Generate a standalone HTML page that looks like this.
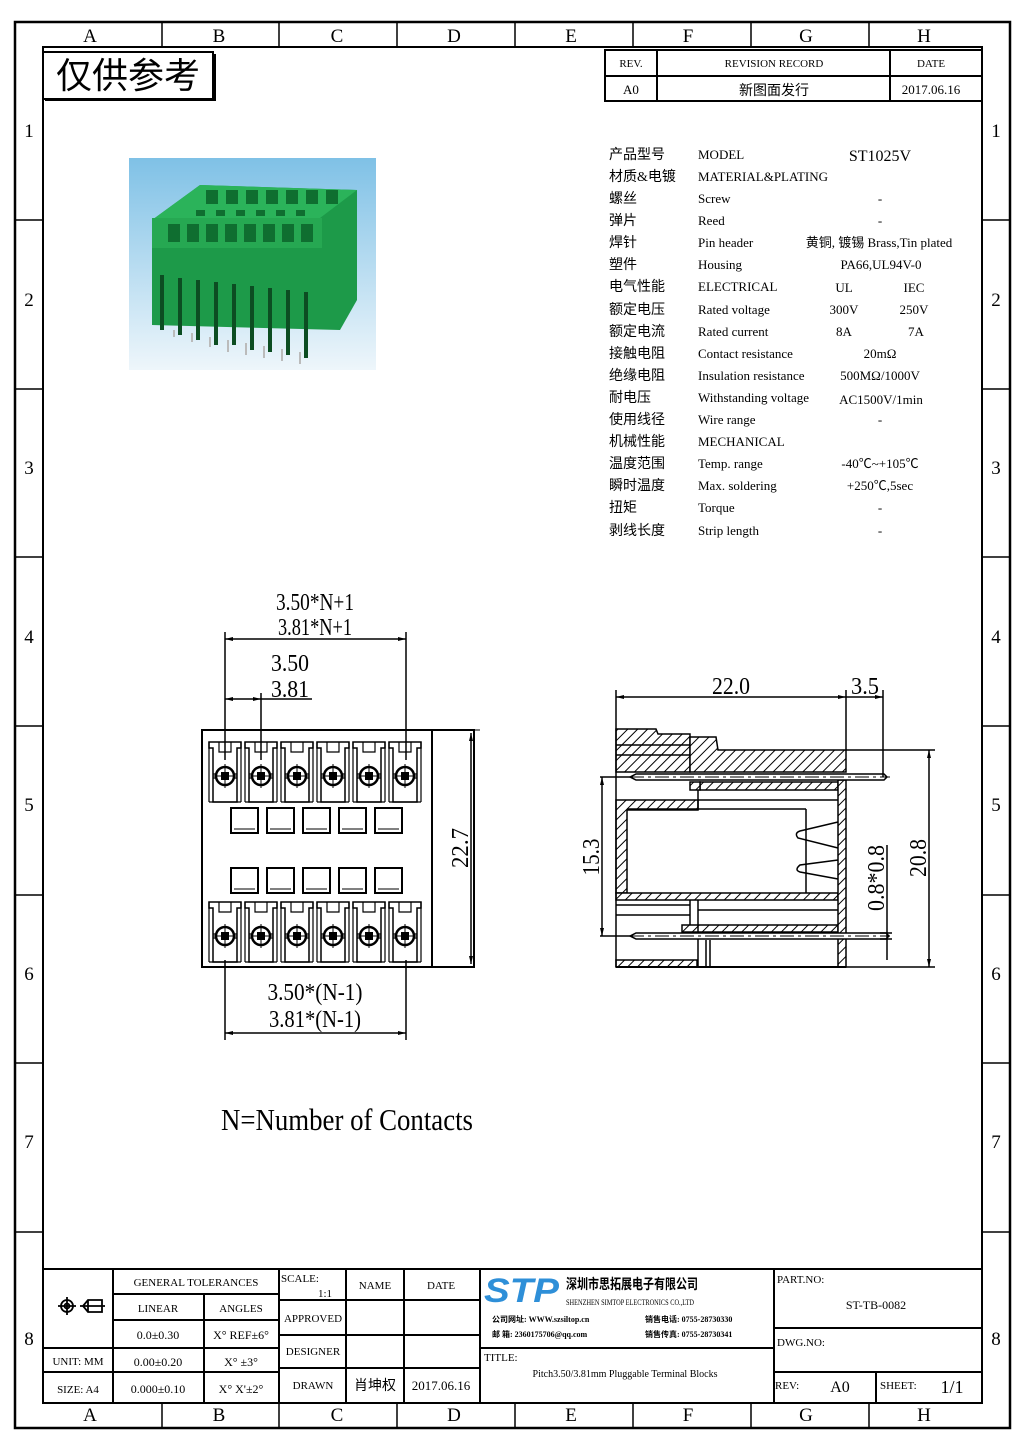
<!DOCTYPE html>
<html><head><meta charset="utf-8"><style>
html,body{margin:0;padding:0;background:#fff;}
svg{display:block;}
text{font-family:"Liberation Serif","Noto Sans CJK SC",serif;fill:#000;}
.s{font-family:"Liberation Sans","Noto Sans CJK SC",sans-serif;}
</style></head><body>
<svg width="1026" height="1451" viewBox="0 0 1026 1451" xmlns="http://www.w3.org/2000/svg">
<defs>
<pattern id="h" width="7" height="7" patternUnits="userSpaceOnUse" patternTransform="rotate(45)">
<rect width="7" height="7" fill="#fff"/><line x1="0" y1="0" x2="0" y2="7" stroke="#000" stroke-width="2"/></pattern>
<linearGradient id="bg" x1="0" y1="0" x2="0" y2="1"><stop offset="0" stop-color="#7fc1e6"/><stop offset="1" stop-color="#eef6fb"/></linearGradient>
<g id="t">
<path d="M-16,-34 H16 V-28 H12 V26 H-12 V-28 H-16 Z" fill="none" stroke="#000" stroke-width="1.5"/>
<path d="M-6,-34 V-24 H6 V-34 M-16,-34 V26 M16,-34 V26 M-16,26 H16 M-12,-2 H12 M-12,2 H12" fill="none" stroke="#000" stroke-width="1.2"/>
<circle r="9" fill="#fff" stroke="#000" stroke-width="2.5"/>
<line x1="-12" y1="0" x2="12" y2="0" stroke="#000" stroke-width="1"/>
<line x1="0" y1="-12" x2="0" y2="12" stroke="#000" stroke-width="1"/>
<rect x="-4" y="-4" width="8" height="8" fill="#000"/>
</g>
<g id="sq"><rect x="0" y="0" width="27" height="25" fill="#fff" stroke="#000" stroke-width="2"/><line x1="3" y1="21" x2="24" y2="21" stroke="#000" stroke-width="1"/></g>
</defs>

<!-- frames -->
<rect x="15" y="22" width="995" height="1406" fill="none" stroke="#000" stroke-width="2.5"/>
<rect x="43" y="47" width="939" height="1356" fill="none" stroke="#000" stroke-width="2"/>
<g stroke="#000" stroke-width="1.5">
<line x1="162" y1="22" x2="162" y2="47"/><line x1="279" y1="22" x2="279" y2="47"/><line x1="397" y1="22" x2="397" y2="47"/><line x1="515" y1="22" x2="515" y2="47"/><line x1="633" y1="22" x2="633" y2="47"/><line x1="751" y1="22" x2="751" y2="47"/><line x1="869" y1="22" x2="869" y2="47"/>
<line x1="162" y1="1403" x2="162" y2="1428"/><line x1="279" y1="1403" x2="279" y2="1428"/><line x1="397" y1="1403" x2="397" y2="1428"/><line x1="515" y1="1403" x2="515" y2="1428"/><line x1="633" y1="1403" x2="633" y2="1428"/><line x1="751" y1="1403" x2="751" y2="1428"/><line x1="869" y1="1403" x2="869" y2="1428"/>
<line x1="15" y1="220" x2="43" y2="220"/><line x1="15" y1="389" x2="43" y2="389"/><line x1="15" y1="557" x2="43" y2="557"/><line x1="15" y1="726" x2="43" y2="726"/><line x1="15" y1="895" x2="43" y2="895"/><line x1="15" y1="1063" x2="43" y2="1063"/><line x1="15" y1="1232" x2="43" y2="1232"/>
<line x1="982" y1="220" x2="1010" y2="220"/><line x1="982" y1="389" x2="1010" y2="389"/><line x1="982" y1="557" x2="1010" y2="557"/><line x1="982" y1="726" x2="1010" y2="726"/><line x1="982" y1="895" x2="1010" y2="895"/><line x1="982" y1="1063" x2="1010" y2="1063"/><line x1="982" y1="1232" x2="1010" y2="1232"/>
</g>
<g font-size="19" text-anchor="middle" class="s">
<text x="90" y="42">A</text><text x="219" y="42">B</text><text x="337" y="42">C</text><text x="454" y="42">D</text><text x="571" y="42">E</text><text x="688" y="42">F</text><text x="806" y="42">G</text><text x="924" y="42">H</text>
<text x="90" y="1421">A</text><text x="219" y="1421">B</text><text x="337" y="1421">C</text><text x="454" y="1421">D</text><text x="571" y="1421">E</text><text x="688" y="1421">F</text><text x="806" y="1421">G</text><text x="924" y="1421">H</text>
<text x="29" y="137">1</text><text x="29" y="306">2</text><text x="29" y="474">3</text><text x="29" y="643">4</text><text x="29" y="811">5</text><text x="29" y="980">6</text><text x="29" y="1148">7</text><text x="29" y="1345">8</text>
<text x="996" y="137">1</text><text x="996" y="306">2</text><text x="996" y="474">3</text><text x="996" y="643">4</text><text x="996" y="811">5</text><text x="996" y="980">6</text><text x="996" y="1148">7</text><text x="996" y="1345">8</text>
</g>

<!-- stamp -->
<rect x="43" y="52" width="170" height="47" fill="none" stroke="#000" stroke-width="2"/>
<line x1="215" y1="54" x2="215" y2="101" stroke="#000" stroke-width="2"/><line x1="45" y1="100" x2="215" y2="100" stroke="#000" stroke-width="2"/>
<text x="128" y="88" font-size="36" text-anchor="middle" class="s" font-weight="normal">仅供参考</text>

<!-- revision -->
<g stroke="#000" stroke-width="2" fill="none">
<rect x="605" y="50" width="377" height="51"/>
<line x1="605" y1="76" x2="982" y2="76"/><line x1="657" y1="50" x2="657" y2="101"/><line x1="890" y1="50" x2="890" y2="101"/>
</g>
<g font-size="11" text-anchor="middle">
<text x="631" y="67">REV.</text><text x="774" y="67">REVISION RECORD</text><text x="931" y="67">DATE</text>
<text x="631" y="94" font-size="13">A0</text><text x="774" y="95" font-size="14">新图面发行</text><text x="931" y="94" font-size="13">2017.06.16</text>
</g>

<!-- photo -->
<rect x="129" y="158" width="247" height="212" fill="url(#bg)"/>
<polygon points="152,220 200,185 357,190 357,300 340,330 152,325" fill="#1d9a49"/>
<polygon points="152,220 200,185 357,190 320,218" fill="#2bb35a"/>
<rect x="152" y="218" width="170" height="30" fill="#26a852"/>
<g fill="#0f6e30">
<rect x="168" y="224" width="12" height="18"/><rect x="187" y="224" width="12" height="18"/><rect x="206" y="224" width="12" height="18"/><rect x="225" y="224" width="12" height="18"/><rect x="244" y="224" width="12" height="18"/><rect x="263" y="224" width="12" height="18"/><rect x="282" y="224" width="12" height="18"/><rect x="301" y="224" width="12" height="18"/>
<rect x="206" y="190" width="12" height="14"/><rect x="226" y="190" width="12" height="14"/><rect x="246" y="190" width="12" height="14"/><rect x="266" y="190" width="12" height="14"/><rect x="286" y="190" width="12" height="14"/><rect x="306" y="190" width="12" height="14"/><rect x="326" y="190" width="12" height="14"/>
<rect x="196" y="210" width="9" height="6"/><rect x="216" y="210" width="9" height="6"/><rect x="236" y="210" width="9" height="6"/><rect x="256" y="210" width="9" height="6"/><rect x="276" y="210" width="9" height="6"/><rect x="296" y="210" width="9" height="6"/>
</g>
<g stroke="#0c4d22" stroke-width="4">
<line x1="162" y1="275" x2="162" y2="330"/><line x1="180" y1="278" x2="180" y2="335"/><line x1="198" y1="280" x2="198" y2="340"/><line x1="216" y1="282" x2="216" y2="345"/><line x1="234" y1="284" x2="234" y2="345"/><line x1="252" y1="286" x2="252" y2="350"/><line x1="270" y1="288" x2="270" y2="352"/><line x1="288" y1="290" x2="288" y2="355"/><line x1="306" y1="292" x2="306" y2="358"/>
</g>
<g stroke="#bbb" stroke-width="2">
<line x1="174" y1="330" x2="174" y2="337"/><line x1="192" y1="333" x2="192" y2="342"/><line x1="210" y1="337" x2="210" y2="347"/><line x1="228" y1="340" x2="228" y2="352"/><line x1="246" y1="343" x2="246" y2="355"/><line x1="264" y1="346" x2="264" y2="358"/><line x1="282" y1="349" x2="282" y2="361"/><line x1="300" y1="352" x2="300" y2="364"/>
</g>

<!-- spec table -->
<g font-size="13" font-family="Liberation Serif,'Noto Sans CJK SC',serif">
<g font-size="14">
<text x="609" y="159">产品型号</text><text x="609" y="181">材质&amp;电镀</text><text x="609" y="203">螺丝</text><text x="609" y="225">弹片</text><text x="609" y="247">焊针</text><text x="609" y="269">塑件</text><text x="609" y="291">电气性能</text><text x="609" y="314">额定电压</text><text x="609" y="336">额定电流</text><text x="609" y="358">接触电阻</text><text x="609" y="380">绝缘电阻</text><text x="609" y="402">耐电压</text><text x="609" y="424">使用线径</text><text x="609" y="446">机械性能</text><text x="609" y="468">温度范围</text><text x="609" y="490">瞬时温度</text><text x="609" y="512">扭矩</text><text x="609" y="535">剥线长度</text>
</g>
<text x="698" y="159">MODEL</text><text x="698" y="181">MATERIAL&amp;PLATING</text><text x="698" y="203">Screw</text><text x="698" y="225">Reed</text><text x="698" y="247">Pin header</text><text x="698" y="269">Housing</text><text x="698" y="291">ELECTRICAL</text><text x="698" y="314">Rated voltage</text><text x="698" y="336">Rated current</text><text x="698" y="358">Contact resistance</text><text x="698" y="380">Insulation resistance</text><text x="698" y="402">Withstanding voltage</text><text x="698" y="424">Wire range</text><text x="698" y="446">MECHANICAL</text><text x="698" y="468">Temp. range</text><text x="698" y="490">Max. soldering</text><text x="698" y="512">Torque</text><text x="698" y="535">Strip length</text>
<g text-anchor="middle">
<text x="880" y="161" font-size="16">ST1025V</text>
<text x="880" y="203">-</text><text x="880" y="225">-</text>
<text x="879" y="247">黄铜, 镀锡 Brass,Tin plated</text>
<text x="881" y="269">PA66,UL94V-0</text>
<text x="844" y="292">UL</text><text x="914" y="292">IEC</text>
<text x="844" y="314">300V</text><text x="914" y="314">250V</text>
<text x="844" y="336">8A</text><text x="916" y="336">7A</text>
<text x="880" y="358">20mΩ</text><text x="880" y="380">500MΩ/1000V</text><text x="881" y="404">AC1500V/1min</text>
<text x="880" y="424">-</text>
<text x="880" y="468">-40℃~+105℃</text><text x="880" y="490">+250℃,5sec</text>
<text x="880" y="512">-</text><text x="880" y="535">-</text>
</g>
</g>

<!-- front view -->
<g stroke="#000" fill="none">
<line x1="225" y1="632" x2="225" y2="760" stroke-width="1.5"/>
<line x1="406" y1="632" x2="406" y2="760" stroke-width="1.5"/>
<line x1="225" y1="639" x2="406" y2="639" stroke-width="1.5"/>
<line x1="261" y1="693" x2="261" y2="760" stroke-width="1.5"/>
<line x1="225" y1="699" x2="312" y2="699" stroke-width="1.5"/>
<line x1="225" y1="960" x2="225" y2="1040" stroke-width="1.5"/>
<line x1="406" y1="960" x2="406" y2="1040" stroke-width="1.5"/>
<line x1="225" y1="1033" x2="406" y2="1033" stroke-width="1.5"/>
<rect x="202" y="730" width="272" height="237" stroke-width="2"/>
<line x1="432" y1="730" x2="432" y2="967" stroke-width="2"/>
<line x1="474" y1="730" x2="480" y2="730" stroke-width="1"/>
<line x1="471" y1="733" x2="471" y2="964" stroke-width="1.5"/>
</g>
<g fill="#000"><polygon points="225,639 233,637 233,641"/><polygon points="406,639 398,637 398,641"/><polygon points="225,699 233,697 233,701"/><polygon points="261,699 253,697 253,701"/><polygon points="225,1033 233,1031 233,1035"/><polygon points="406,1033 398,1031 398,1035"/><polygon points="471,733 469,741 473,741"/><polygon points="471,964 469,956 473,956"/></g>
<use href="#t" x="225" y="776"/><use href="#t" x="261" y="776"/><use href="#t" x="297" y="776"/><use href="#t" x="333" y="776"/><use href="#t" x="369" y="776"/><use href="#t" x="405" y="776"/>
<use href="#t" x="225" y="936"/><use href="#t" x="261" y="936"/><use href="#t" x="297" y="936"/><use href="#t" x="333" y="936"/><use href="#t" x="369" y="936"/><use href="#t" x="405" y="936"/>
<use href="#sq" x="231" y="808"/><use href="#sq" x="267" y="808"/><use href="#sq" x="303" y="808"/><use href="#sq" x="339" y="808"/><use href="#sq" x="375" y="808"/>
<use href="#sq" x="231" y="868"/><use href="#sq" x="267" y="868"/><use href="#sq" x="303" y="868"/><use href="#sq" x="339" y="868"/><use href="#sq" x="375" y="868"/>
<g font-size="24" text-anchor="middle">
<text x="315" y="610" textLength="78" lengthAdjust="spacingAndGlyphs">3.50*N+1</text>
<text x="315" y="635" textLength="74" lengthAdjust="spacingAndGlyphs">3.81*N+1</text>
<text x="290" y="671" textLength="38" lengthAdjust="spacingAndGlyphs">3.50</text>
<text x="290" y="697" textLength="38" lengthAdjust="spacingAndGlyphs">3.81</text>
<text x="315" y="1000" textLength="95" lengthAdjust="spacingAndGlyphs">3.50*(N-1)</text>
<text x="315" y="1027" textLength="92" lengthAdjust="spacingAndGlyphs">3.81*(N-1)</text>
<text transform="translate(468,848) rotate(-90)" textLength="40" lengthAdjust="spacingAndGlyphs">22.7</text>
</g>
<text x="347" y="1130" font-size="31" text-anchor="middle" textLength="252" lengthAdjust="spacingAndGlyphs">N=Number of Contacts</text>

<!-- side view -->
<g stroke="#000" stroke-width="1.5" fill="url(#h)">
<path d="M616,729 H656 L658,734 H690 V772 H616 Z" fill="url(#h)"/>
<path d="M690,737 H716 L718,750 H846 V772 H690 Z"/>
<path d="M700,782 H838 V790 H700 Z"/>
<path d="M690,782 H700 V790 H690 Z"/>
<path d="M616,800 H698 V810 H627 V893 H616 Z"/>
<path d="M616,893 H838 V900 H616 Z"/>
<path d="M682,925 H838 V932 H682 Z"/>
<path d="M616,960 H697 V967 H616 Z"/>
<path d="M838,780 H846 V967 H838 Z"/>
</g>
<g stroke="#000" fill="none" stroke-width="1.5">
<line x1="616" y1="729" x2="616" y2="967"/>
<line x1="616" y1="967" x2="846" y2="967" stroke-width="2"/>
<line x1="616" y1="745" x2="690" y2="745"/><line x1="616" y1="755" x2="690" y2="755"/>
<line x1="698" y1="800" x2="838" y2="800"/><line x1="698" y1="790" x2="698" y2="810"/>
<line x1="627" y1="809" x2="806" y2="809"/><line x1="806" y1="809" x2="806" y2="893"/>
<line x1="616" y1="905" x2="690" y2="905"/><line x1="616" y1="915" x2="690" y2="915"/>
<line x1="698" y1="900" x2="698" y2="967"/><line x1="698" y1="910" x2="838" y2="910"/>
<line x1="706" y1="940" x2="706" y2="967"/><line x1="710" y1="940" x2="710" y2="967"/>
<line x1="690" y1="900" x2="690" y2="925"/>
<path d="M630,777 L636,774 H884 L887,777 L884,780 H636 Z" fill="#fff"/>
<path d="M630,936 L636,933 H886 L889,936 L886,939 H636 Z" fill="#fff"/>
<line x1="605" y1="777" x2="890" y2="777" stroke-dasharray="14,4,3,4" stroke-width="1"/>
<line x1="605" y1="936" x2="890" y2="936" stroke-dasharray="14,4,3,4" stroke-width="1"/>
<path d="M838,822 L800,831 Q794,833 798,838 L838,848"/>
<path d="M838,860 L800,865 Q794,870 800,872 L838,879"/>
<!-- dims -->
<line x1="616" y1="690" x2="616" y2="729"/>
<line x1="846" y1="690" x2="846" y2="750"/>
<line x1="883" y1="690" x2="883" y2="777"/>
<line x1="616" y1="697" x2="883" y2="697"/>
<line x1="846" y1="750" x2="935" y2="750"/>
<line x1="846" y1="967" x2="935" y2="967"/>
<line x1="929" y1="750" x2="929" y2="967"/>
<line x1="600" y1="777" x2="630" y2="777"/>
<line x1="600" y1="936" x2="630" y2="936"/>
<line x1="602" y1="777" x2="602" y2="936"/>
<line x1="887" y1="845" x2="887" y2="960"/>
<line x1="880" y1="933" x2="892" y2="933"/><line x1="880" y1="939" x2="892" y2="939"/>
</g>
<g fill="#000"><polygon points="616,697 624,695 624,699"/><polygon points="846,697 838,695 838,699"/><polygon points="883,697 875,695 875,699"/><polygon points="929,750 927,758 931,758"/><polygon points="929,967 927,959 931,959"/><polygon points="602,777 600,785 604,785"/><polygon points="602,936 600,928 604,928"/></g>
<g font-size="24" text-anchor="middle">
<text x="731" y="694" textLength="38" lengthAdjust="spacingAndGlyphs">22.0</text>
<text x="865" y="694" textLength="28" lengthAdjust="spacingAndGlyphs">3.5</text>
<text transform="translate(926,858) rotate(-90)" textLength="38" lengthAdjust="spacingAndGlyphs">20.8</text>
<text transform="translate(599,857) rotate(-90)" textLength="37" lengthAdjust="spacingAndGlyphs">15.3</text>
<text transform="translate(884,878) rotate(-90)" textLength="66" lengthAdjust="spacingAndGlyphs">0.8*0.8</text>
</g>

<!-- title block -->
<g stroke="#000" stroke-width="2" fill="none">
<line x1="43" y1="1269" x2="982" y2="1269"/>
<line x1="113" y1="1269" x2="113" y2="1403"/>
<line x1="204" y1="1294" x2="204" y2="1403"/>
<line x1="279" y1="1269" x2="279" y2="1403"/>
<line x1="346" y1="1269" x2="346" y2="1403"/>
<line x1="404" y1="1269" x2="404" y2="1403"/>
<line x1="480" y1="1269" x2="480" y2="1403"/>
<line x1="774" y1="1269" x2="774" y2="1403"/>
<line x1="876" y1="1372" x2="876" y2="1403"/>
<line x1="113" y1="1294" x2="279" y2="1294"/>
<line x1="113" y1="1320" x2="279" y2="1320"/>
<line x1="43" y1="1348" x2="279" y2="1348"/>
<line x1="43" y1="1372" x2="279" y2="1372"/>
<line x1="279" y1="1300" x2="480" y2="1300"/>
<line x1="279" y1="1335" x2="480" y2="1335"/>
<line x1="279" y1="1368" x2="480" y2="1368"/>
<line x1="480" y1="1348" x2="774" y2="1348"/>
<line x1="774" y1="1328" x2="982" y2="1328"/>
<line x1="774" y1="1372" x2="982" y2="1372"/>
</g>
<g stroke="#000" stroke-width="1.8" fill="none">
<circle cx="67" cy="1306" r="6"/><circle cx="67" cy="1306" r="2.5"/><line x1="58" y1="1306" x2="76" y2="1306"/><line x1="67" y1="1297" x2="67" y2="1315"/>
<path d="M83,1306 L88,1300 H102 V1312 H88 Z M88,1300 V1312 M80,1306 H105"/>
</g>
<g font-size="11" text-anchor="middle">
<text x="196" y="1286">GENERAL TOLERANCES</text>
<text x="158" y="1312">LINEAR</text><text x="241" y="1312">ANGLES</text>
<text x="158" y="1339" font-size="12">0.0±0.30</text><text x="241" y="1339" font-size="12">X° REF±6°</text>
<text x="78" y="1365">UNIT: MM</text><text x="158" y="1366" font-size="12">0.00±0.20</text><text x="241" y="1366" font-size="12">X° ±3°</text>
<text x="78" y="1393">SIZE: A4</text><text x="158" y="1393" font-size="12">0.000±0.10</text><text x="241" y="1393" font-size="12">X° X'±2°</text>
<text x="300" y="1282">SCALE:</text><text x="325" y="1297">1:1</text>
<text x="375" y="1289">NAME</text><text x="441" y="1289">DATE</text>
<text x="313" y="1322">APPROVED</text><text x="313" y="1355">DESIGNER</text><text x="313" y="1389">DRAWN</text>
<text x="375" y="1390" font-size="14">肖坤权</text><text x="441" y="1390" font-size="13">2017.06.16</text>
</g>
<text x="484" y="1302" font-size="34" font-weight="bold" font-style="italic" fill="#2e8fd8" style="fill:#2e8fd8" class="s" textLength="75" lengthAdjust="spacingAndGlyphs">STP</text>
<text x="566" y="1289" font-size="14" font-weight="bold" textLength="132" lengthAdjust="spacingAndGlyphs">深圳市思拓展电子有限公司</text>
<text x="566" y="1305" font-size="8" textLength="128" lengthAdjust="spacingAndGlyphs">SHENZHEN SIMTOP ELECTRONICS CO.,LTD</text>
<g font-size="8" font-weight="bold">
<text x="492" y="1322">公司网址: WWW.szsiltop.cn</text><text x="645" y="1322">销售电话: 0755-28730330</text>
<text x="492" y="1337">邮    箱: 2360175706@qq.com</text><text x="645" y="1337">销售传真: 0755-28730341</text>
</g>
<text x="484" y="1361" font-size="11">TITLE:</text>
<text x="625" y="1377" font-size="10" text-anchor="middle" font-family="Liberation Mono,monospace">Pitch3.50/3.81mm Pluggable Terminal Blocks</text>
<g font-size="11">
<text x="777" y="1283">PART.NO:</text>
<text x="876" y="1309" text-anchor="middle" font-size="12">ST-TB-0082</text>
<text x="777" y="1346">DWG.NO:</text>
<text x="775" y="1389">REV:</text><text x="840" y="1392" text-anchor="middle" font-size="16">A0</text>
<text x="880" y="1389">SHEET:</text><text x="952" y="1393" text-anchor="middle" font-size="18">1/1</text>
</g>
</svg>
</body></html>
